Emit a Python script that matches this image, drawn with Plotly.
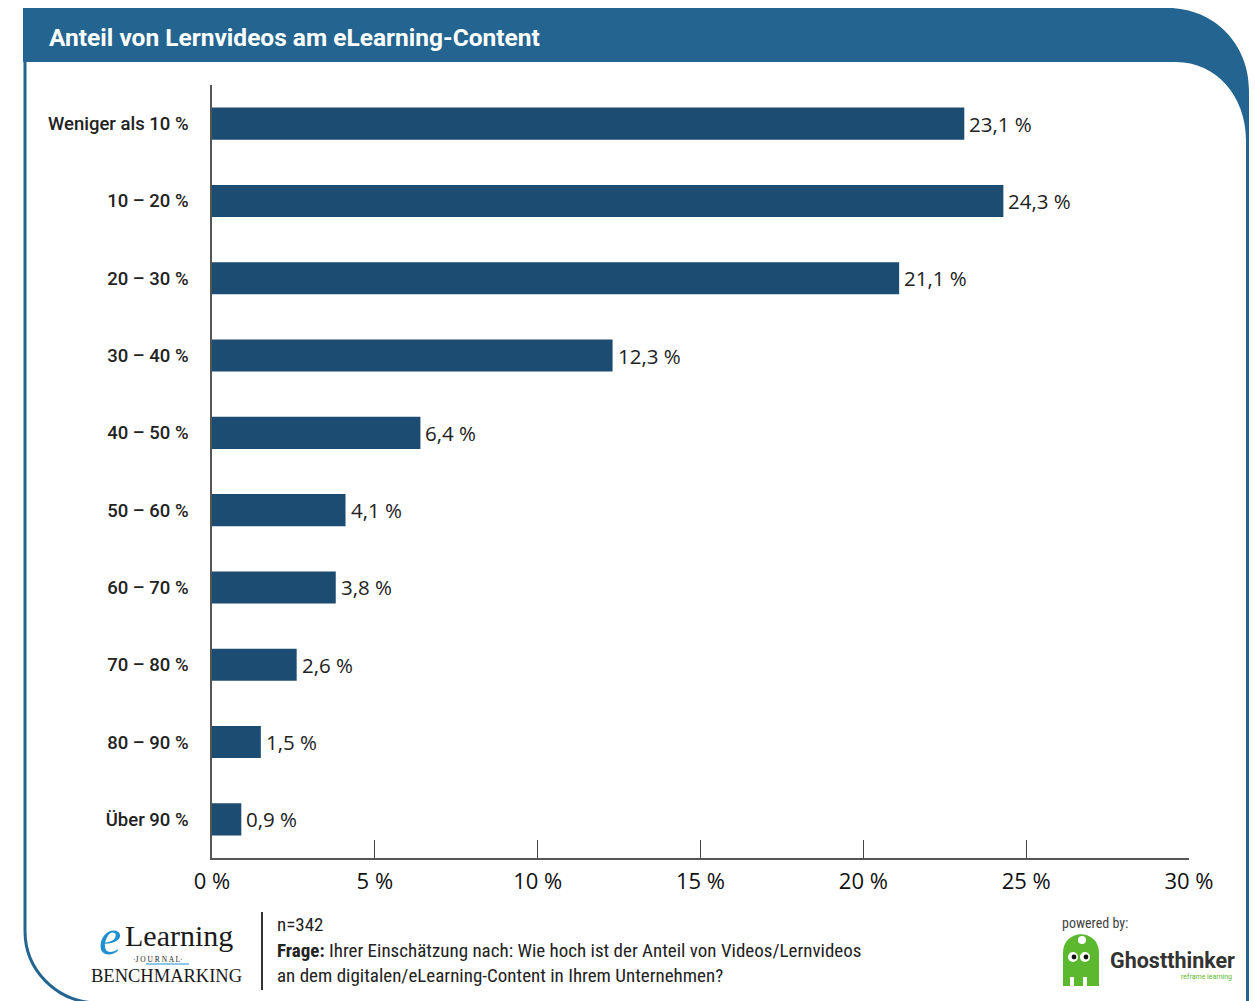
import plotly.graph_objects as go

# ---------------- data ----------------
categories = ["Weniger als 10 %", "10 – 20 %", "20 – 30 %", "30 – 40 %", "40 – 50 %",
              "50 – 60 %", "60 – 70 %", "70 – 80 %", "80 – 90 %", "Über 90 %"]
values = [23.1, 24.3, 21.1, 12.3, 6.4, 4.1, 3.8, 2.6, 1.5, 0.9]
value_labels = ["23,1 %", "24,3 %", "21,1 %", "12,3 %", "6,4 %", "4,1 %", "3,8 %", "2,6 %", "1,5 %", "0,9 %"]
x_tickvals = [0, 5, 10, 15, 20, 25, 30]
x_ticktext = ["0 %", "5 %", "10 %", "15 %", "20 %", "25 %", "30 %"]

title_text = "Anteil von Lernvideos am eLearning-Content"
sample_text = "n=342"
question_line1 = "<b>Frage:</b> Ihrer Einschätzung nach: Wie hoch ist der Anteil von Videos/Lernvideos"
question_line2 = "an dem digitalen/eLearning-Content in Ihrem Unternehmen?"

# ---------------- layout geometry (pixels) ----------------
W, H = 1255, 1001
PL, PR, PT, PB = 212, 1189, 85, 858  # plot area


def px(x):
    return (x - PL) / (PR - PL)


def py(y):
    return (PB - y) / (PB - PT)


def path(cmds):
    out = []
    for c in cmds:
        if isinstance(c, str):
            out.append(c)
        else:
            out.append(f"{px(c[0]):.5f},{py(c[1]):.5f}")
    return " ".join(out)


HEADER = "#236590"
BAR = "#1c4c72"
DARK = "#222222"
COND = "Roboto Condensed, DejaVu Sans Condensed, Roboto"

fig = go.Figure()
fig.add_trace(go.Bar(
    x=values, y=categories, orientation="h",
    marker=dict(color=BAR, line=dict(width=0)),
    hoverinfo="skip", showlegend=False,
))

annotations = []
for v, c, t in zip(values, categories, value_labels):
    annotations.append(dict(x=v, y=c, xref="x", yref="y", text=t, showarrow=False,
                            xanchor="left", yanchor="middle", xshift=3,
                            font=dict(family="Open Sans", size=20.5, color=DARK)))

paper_ann = [
    # title
    dict(x=px(47), y=py(37), text=f"<b>{title_text}</b>", xanchor="left",
         font=dict(family="Roboto", size=24.5, color="white")),
    # footer texts
    dict(x=px(275), y=py(924), text=sample_text, xanchor="left",
         font=dict(family=COND, size=19, color=DARK)),
    dict(x=px(275), y=py(950), text=question_line1, xanchor="left",
         font=dict(family=COND, size=19, color=DARK)),
    dict(x=px(275), y=py(975), text=question_line2, xanchor="left",
         font=dict(family=COND, size=19, color=DARK)),
    # eLearning logo
    dict(x=px(110), y=py(937), text="<i>e</i>", xanchor="center",
         font=dict(family="Liberation Serif", size=50, color="#1e8fd0")),
    dict(x=px(123), y=py(935), text="Learning", xanchor="left",
         font=dict(family="Liberation Serif", size=30, color="#1a1a1a")),
    dict(x=px(158), y=py(959), text="·J O U R N A L·", xanchor="center",
         font=dict(family="Liberation Serif", size=7.5, color="#1a1a1a")),
    dict(x=px(166), y=py(976), text="BENCHMARKING", xanchor="center",
         font=dict(family="Liberation Serif", size=18.5, color="#1a1a1a")),
    # powered by
    dict(x=px(1060), y=py(923), text="powered by:", xanchor="left",
         font=dict(family=COND, size=14, color="#444444")),
    dict(x=px(1108), y=py(960), text="<b>Ghostthinker</b>", xanchor="left",
         font=dict(family="Roboto", size=21.5, color="#333333")),
    dict(x=px(1234), y=py(977), text="reframe learning", xanchor="right",
         font=dict(family="Roboto", size=7, color="#5cb82e")),
]
for a in paper_ann:
    a.update(xref="paper", yref="paper", showarrow=False, yanchor="middle")
annotations += paper_ann

shapes = []
# header band + right border
shapes.append(dict(type="path", xref="paper", yref="paper", layer="above",
                   fillcolor=HEADER, line=dict(width=0),
                   path=path(["M", (23, 8), "L", (1168, 8), "C", (1214, 8), (1249, 44), (1249, 90),
                              "L", (1249, 1005), "L", (1246, 1005), "L", (1246, 140),
                              "C", (1246, 96), (1216, 62), (1176, 62), "L", (23, 62), "Z"])))
# left border with rounded bottom corner
shapes.append(dict(type="path", xref="paper", yref="paper", layer="above",
                   line=dict(color=HEADER, width=3),
                   path=path(["M", (25, 62), "L", (25, 931), "C", (25, 970), (56, 1001), (95, 1003)])))
# separator line
shapes.append(dict(type="line", xref="paper", yref="paper", x0=px(262), x1=px(262), y0=py(912), y1=py(990),
                   line=dict(color="#333333", width=2)))
# blue rule in logo
shapes.append(dict(type="line", xref="paper", yref="paper", x0=px(146), x1=px(189), y0=py(964), y1=py(964),
                   line=dict(color="#1e8fd0", width=1.2)))
# ghost logo
GREEN = "#5cb82e"
shapes.append(dict(type="path", xref="paper", yref="paper", fillcolor=GREEN, line=dict(width=0),
                   path=path(["M", (1063, 986), "L", (1063, 953), "C", (1063, 928), (1099, 928), (1099, 953),
                              "L", (1099, 986), "Z"])))
for (x0, x1) in [(1070, 1074), (1083, 1087)]:
    shapes.append(dict(type="rect", xref="paper", yref="paper", x0=px(x0), x1=px(x1), y0=py(986), y1=py(977),
                       fillcolor="white", line=dict(width=0)))
for (cx, cy, r, col) in [(1082, 940, 4, "white"), (1073, 957, 5, "white"), (1085, 957, 5, "white"),
                         (1074, 957, 2.4, "#111111"), (1086, 957, 2.4, "#111111")]:
    shapes.append(dict(type="circle", xref="paper", yref="paper",
                       x0=px(cx - r), x1=px(cx + r), y0=py(cy + r), y1=py(cy - r),
                       fillcolor=col, line=dict(width=0)))

fig.update_layout(
    width=W, height=H,
    margin=dict(l=PL, r=W - PR, t=PT, b=H - PB, pad=0),
    paper_bgcolor="white", plot_bgcolor="white",
    bargap=0.585,
    showlegend=False,
    annotations=annotations,
    shapes=shapes,
    xaxis=dict(range=[0, 30], tickvals=x_tickvals, ticktext=x_ticktext,
               ticks="inside", ticklen=18, tickwidth=1.2, tickcolor="#444444",
               showline=True, linecolor="#555555", linewidth=1.5,
               showgrid=False, zeroline=False, fixedrange=True,
               tickfont=dict(family="Open Sans", size=22, color="#111111"),
               ticklabelstandoff=3),
    yaxis=dict(categoryorder="array", categoryarray=categories, autorange="reversed",
               showline=True, linecolor="#555555", linewidth=1.5,
               showgrid=False, zeroline=False, ticks="", fixedrange=True,
               ticklabelstandoff=18,
               tickfont=dict(family="Roboto", size=18.5, color=DARK, weight=500)),
)

fig.write_html("out.html")
